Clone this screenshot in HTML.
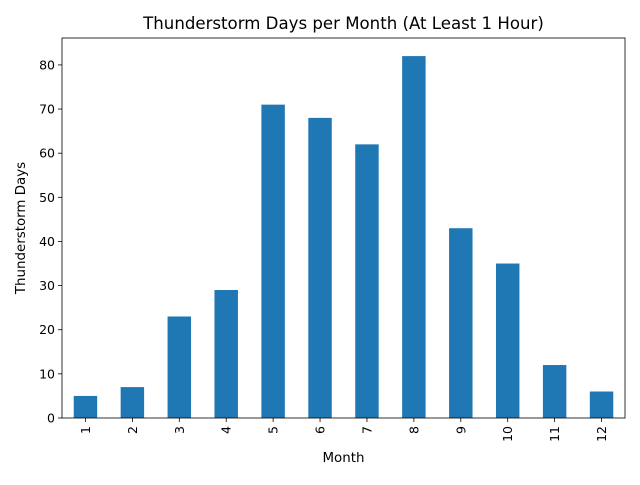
<!DOCTYPE html>
<html><head><meta charset="utf-8"><style>
body{margin:0;background:#fff;font-family:"Liberation Sans","DejaVu Sans",sans-serif;}
svg text{font-family:"DejaVu Sans","Liberation Sans",sans-serif;}
</style></head><body>
<svg id="chart" width="640" height="480" xmlns="http://www.w3.org/2000/svg">
<rect width="640" height="480" fill="#fff"/>
<text x="343.5" y="29" text-anchor="middle" font-size="16.6">Thunderstorm Days per Month (At Least 1 Hour)</text>
<g id="bars"></g>
<g id="axes"></g>
<text x="343.5" y="462" text-anchor="middle" font-size="13.4">Month</text>
<text transform="translate(25,228) rotate(-90)" text-anchor="middle" font-size="13.4">Thunderstorm Days</text>
</svg>
<script>
const categories = ["1","2","3","4","5","6","7","8","9","10","11","12"];
const values = [5,7,23,29,71,68,62,82,43,35,12,6];
const yTicks = [0,10,20,30,40,50,60,70,80];
const L=62,R=625,T=38,B=418;
const yMax=Math.max(...values)*1.05;
const ns="http://www.w3.org/2000/svg";
const band=(R-L)/categories.length;
function x(i){return L+band*(i+0.5);}
function y(v){return B-(B-T)*v/yMax;}
function mk(tag,attrs,parent){const e=document.createElementNS(ns,tag);for(const k in attrs)e.setAttribute(k,attrs[k]);parent.appendChild(e);return e;}
const bars=document.getElementById('bars'),axes=document.getElementById('axes');
values.forEach((v,i)=>{
  const r=mk('rect',{x:x(i)-band*0.25,y:y(v),width:band*0.5,height:B-y(v),fill:'#1f77b4'},bars);
  
  
  const t=mk('line',{x1:x(i),x2:x(i),y1:B,y2:B+4,stroke:'#000','stroke-width':0.8},axes);
  
  
  const lb=mk('text',{transform:`translate(${x(i)+4.5},${B+8}) rotate(-90)`,'text-anchor':'end','font-size':12.5},axes);
  lb.textContent=categories[i];
  
  
});
yTicks.forEach(v=>{
  const t=mk('line',{x1:L-4,x2:L,y1:y(v),y2:y(v),stroke:'#000','stroke-width':0.8},axes);
  
  
  const lb=mk('text',{x:L-7,y:y(v)+4.5,'text-anchor':'end','font-size':12.5},axes);
  lb.textContent=v;
  
  
});
const frame=mk('rect',{x:L,y:T,width:R-L,height:B-T,fill:'none',stroke:'#000','stroke-width':0.8},axes);


</script>
</body></html>
